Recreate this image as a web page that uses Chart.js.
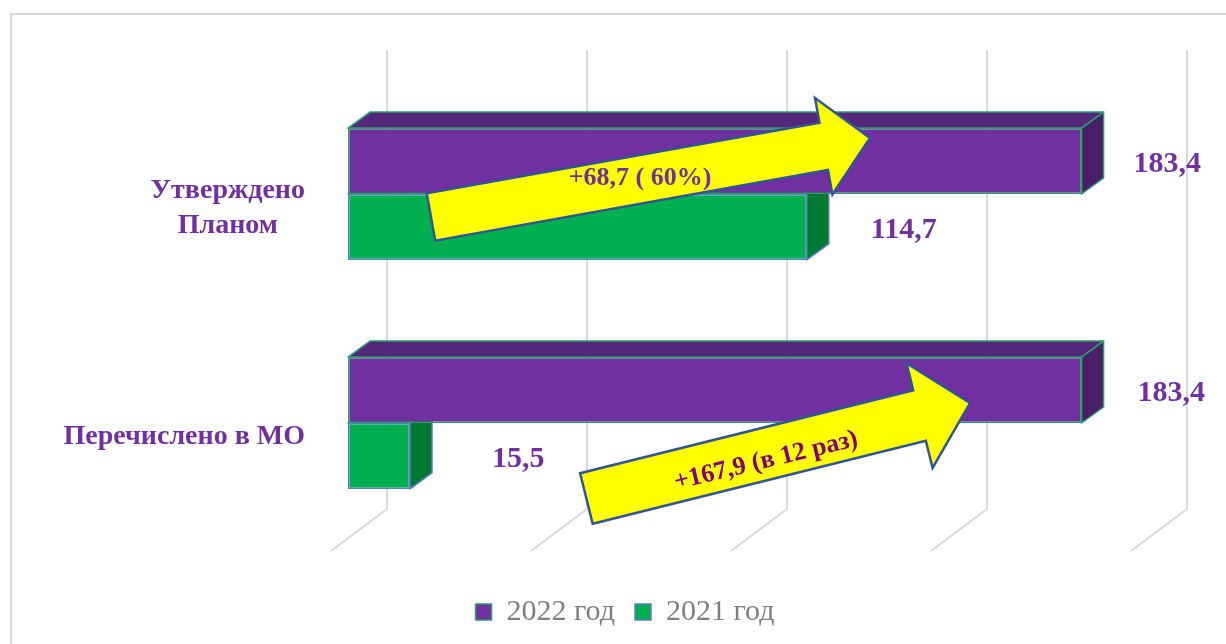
<!DOCTYPE html>
<html lang="ru">
<head>
    <meta charset="UTF-8">
    <title>Утверждено Планом / Перечислено в МО</title>
    <script src="https://cdn.jsdelivr.net/npm/chart.js"></script>
    <style>
        html, body {
            margin: 0;
            padding: 0;
            background: #ffffff;
            overflow: hidden;
        }
        #frame {
            position: absolute;
            left: 10px;
            top: 13px;
            width: 1300px;
            height: 700px;
            border: 2px solid #D9D9D9;
        }
        #chart {
            position: absolute;
            left: 0;
            top: 0;
        }
    </style>
</head>
<body>
    <div id="frame"></div>
    <canvas id="chart" width="1226" height="644"></canvas>

    <script>
        // Данные
        const categories = [['Утверждено', 'Планом'], 'Перечислено в МО'];
        const seriesNames = ['2022 год', '2021 год'];
        const values2022 = [183.4, 183.4];
        const values2021 = [114.7, 15.5];
        const axisTicks = [0, 50, 100, 150, 200];

        const fmt = v => v.toFixed(1).replace('.', ',');

        // Подписи на стрелках считаются из тех же данных
        const diffPlan = values2022[0] - values2021[0];
        const pctPlan = Math.round((values2022[0] / values2021[0] - 1) * 100);
        const diffMO = values2022[1] - values2021[1];
        const timesMO = Math.round(values2022[1] / values2021[1]);

        const SERIF = '"Liberation Serif", "Times New Roman", serif';
        const DEPTH = { dx: 22, dy: -16 };

        // Объёмные грани столбцов и "3D" сетка
        const bars3d = {
            id: 'bars3d',
            beforeDatasetsDraw(chart) {
                const ctx = chart.ctx;
                const area = chart.chartArea;
                const xs = chart.scales.x;

                // линии сетки: задняя стенка + уход вниз-влево
                ctx.save();
                ctx.strokeStyle = '#D9D9D9';
                ctx.lineWidth = 2;
                xs.ticks.forEach(t => {
                    const px = xs.getPixelForValue(t.value) + 39;
                    ctx.beginPath();
                    ctx.moveTo(px, area.top - 29.5);
                    ctx.lineTo(px, area.bottom - 28.5);
                    ctx.lineTo(px - 56, area.bottom + 13.5);
                    ctx.stroke();
                });
                ctx.restore();

                const faces = [
                    { top: '#55277A', side: '#48206A' },
                    { top: '#00843C', side: '#007A33' }
                ];
                // сначала нижний ряд, чтобы верхний его перекрыл
                for (let d = chart.data.datasets.length - 1; d >= 0; d--) {
                    const ds = chart.data.datasets[d];
                    const meta = chart.getDatasetMeta(d);
                    meta.data.forEach(bar => {
                        const { x, y, base, height } = bar.getProps(['x', 'y', 'base', 'height']);
                        const t = y - height / 2;
                        const b = y + height / 2;
                        ctx.save();
                        ctx.lineWidth = 1.5;
                        ctx.strokeStyle = ds.borderColor;
                        ctx.lineJoin = 'round';
                        // верхняя грань
                        ctx.beginPath();
                        ctx.moveTo(base, t);
                        ctx.lineTo(x, t);
                        ctx.lineTo(x + DEPTH.dx, t + DEPTH.dy);
                        ctx.lineTo(base + DEPTH.dx, t + DEPTH.dy);
                        ctx.closePath();
                        ctx.fillStyle = faces[d].top;
                        ctx.fill();
                        ctx.stroke();
                        // боковая грань
                        ctx.beginPath();
                        ctx.moveTo(x, t);
                        ctx.lineTo(x + DEPTH.dx, t + DEPTH.dy);
                        ctx.lineTo(x + DEPTH.dx, b + DEPTH.dy);
                        ctx.lineTo(x, b);
                        ctx.closePath();
                        ctx.fillStyle = faces[d].side;
                        ctx.fill();
                        ctx.stroke();
                        ctx.restore();
                    });
                }
            }
        };

        // Подписи категорий слева
        const categoryLabels = {
            id: 'categoryLabels',
            afterDraw(chart) {
                const ctx = chart.ctx;
                const ys = chart.scales.y;
                ctx.save();
                ctx.font = 'bold 28px ' + SERIF;
                ctx.fillStyle = '#7030A0';
                ctx.textAlign = 'center';
                ctx.textBaseline = 'middle';
                const right = 305;
                categories.forEach((cat, i) => {
                    const lines = Array.isArray(cat) ? cat : [cat];
                    const w = Math.max(...lines.map(l => ctx.measureText(l).width));
                    const cx = right - w / 2;
                    const lh = 35;
                    const cy = ys.getPixelForValue(i) + 14;
                    lines.forEach((l, k) => {
                        ctx.fillText(l, cx, cy + (k - (lines.length - 1) / 2) * lh);
                    });
                });
                ctx.restore();
            }
        };

        // Стрелки-выноски и подписи значений
        const callouts = {
            id: 'callouts',
            afterDatasetsDraw(chart, args, opts) {
                const ctx = chart.ctx;
                const xs = chart.scales.x;
                const ys = chart.scales.y;

                opts.arrows.forEach(a => {
                    const cy = ys.getPixelForValue(a.cat);
                    const T = { x: xs.getPixelForValue(a.from[0]), y: cy + a.from[1] };
                    const P = { x: xs.getPixelForValue(a.to[0]), y: cy + a.to[1] };
                    const len = Math.hypot(P.x - T.x, P.y - T.y);
                    const u = { x: (P.x - T.x) / len, y: (P.y - T.y) / len };
                    const n = { x: -u.y, y: u.x };
                    const B = { x: P.x - u.x * a.headLen, y: P.y - u.y * a.headLen };
                    const s = a.shaft / 2, h = a.head / 2;
                    const pts = [
                        [T.x + n.x * s, T.y + n.y * s],
                        [B.x + n.x * s, B.y + n.y * s],
                        [B.x + n.x * h, B.y + n.y * h],
                        [P.x, P.y],
                        [B.x - n.x * h, B.y - n.y * h],
                        [B.x - n.x * s, B.y - n.y * s],
                        [T.x - n.x * s, T.y - n.y * s]
                    ];
                    ctx.save();
                    ctx.beginPath();
                    pts.forEach((p, i) => i ? ctx.lineTo(p[0], p[1]) : ctx.moveTo(p[0], p[1]));
                    ctx.closePath();
                    ctx.fillStyle = '#FFFF00';
                    ctx.fill();
                    ctx.lineWidth = 2.5;
                    ctx.lineJoin = 'miter';
                    ctx.strokeStyle = '#2F5597';
                    ctx.stroke();

                    ctx.translate(xs.getPixelForValue(a.textAt[0]), cy + a.textAt[1]);
                    ctx.rotate(a.textAngle * Math.PI / 180);
                    ctx.font = 'bold 26px ' + SERIF;
                    ctx.fillStyle = a.color;
                    ctx.textAlign = 'center';
                    ctx.textBaseline = 'middle';
                    ctx.fillText(a.text, 0, 0);
                    ctx.restore();
                });

                // значения у концов столбцов
                ctx.save();
                ctx.font = 'bold 30px ' + SERIF;
                ctx.fillStyle = '#7030A0';
                ctx.textAlign = 'left';
                ctx.textBaseline = 'middle';
                chart.data.datasets.forEach((ds, d) => {
                    chart.getDatasetMeta(d).data.forEach((bar, i) => {
                        const gap = opts.labelGap[d][i];
                        ctx.fillText(fmt(ds.data[i]), bar.x + gap, bar.y + 3);
                    });
                });
                ctx.restore();
            }
        };

        new Chart(document.getElementById('chart'), {
            type: 'bar',
            data: {
                labels: categories,
                datasets: [{
                    label: seriesNames[0],
                    data: values2022,
                    backgroundColor: '#7030A0',
                    borderColor: '#2E9E6E',
                    borderWidth: 1.5,
                    borderSkipped: false
                }, {
                    label: seriesNames[1],
                    data: values2021,
                    backgroundColor: '#00B050',
                    borderColor: '#5B7FC7',
                    borderWidth: 1.5,
                    borderSkipped: false
                }]
            },
            options: {
                indexAxis: 'y',
                responsive: false,
                animation: false,
                categoryPercentage: 0.576,
                barPercentage: 1,
                layout: {
                    padding: { left: 102, right: 78, top: 79.5, bottom: 7 }
                },
                scales: {
                    x: {
                        min: axisTicks[0],
                        max: axisTicks[axisTicks.length - 1],
                        ticks: { display: false, stepSize: axisTicks[1] - axisTicks[0] },
                        grid: { display: false },
                        border: { display: false },
                        afterFit: s => { s.height = 39.5; }
                    },
                    y: {
                        ticks: { display: false },
                        grid: { display: false },
                        border: { display: false },
                        afterFit: s => { s.width = 246; }
                    }
                },
                plugins: {
                    tooltip: { enabled: false },
                    legend: {
                        position: 'bottom',
                        labels: {
                            boxWidth: 16,
                            boxHeight: 16,
                            padding: 20,
                            color: '#7F7F7F',
                            font: { family: SERIF, size: 30 }
                        }
                    },
                    callouts: {
                        labelGap: [[52, 56], [64, 82]],
                        arrows: [{
                            cat: 0,
                            from: [20.75, 23], to: [130.5, -56],
                            shaft: 48, head: 98, headLen: 47,
                            text: '+' + fmt(diffPlan) + ' ( ' + pctPlan + '%)',
                            textAt: [73, -16], textAngle: 0,
                            color: '#7030A0'
                        }, {
                            cat: 1,
                            from: [59.6, 75.5], to: [155.5, -20],
                            shaft: 52, head: 108, headLen: 52,
                            text: '+' + fmt(diffMO) + ' (в ' + timesMO + ' раз)',
                            textAt: [104.5, 38], textAngle: -13.5,
                            color: '#800080'
                        }]
                    }
                }
            },
            plugins: [bars3d, categoryLabels, callouts]
        });
    </script>
</body>
</html>
